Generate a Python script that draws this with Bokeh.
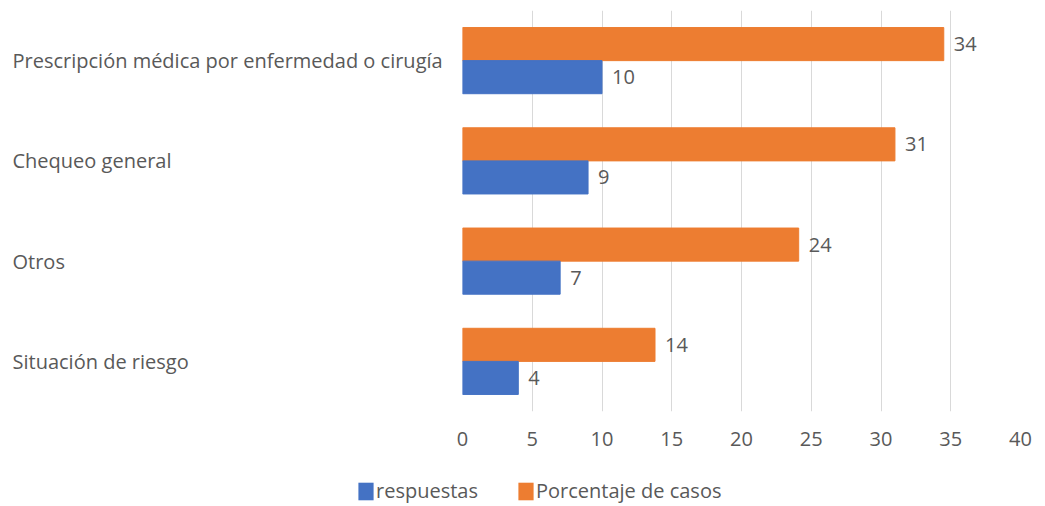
from bokeh.plotting import figure
from bokeh.models import ColumnDataSource, Legend, LegendItem, FactorRange, Range1d
from bokeh.layouts import column, row
from bokeh.transform import dodge
from bokeh.core.properties import value
from bokeh.embed import file_html
from bokeh.resources import INLINE

categories = [
    "Prescripción médica por enfermedad o cirugía",
    "Chequeo general",
    "Otros",
    "Situación de riesgo",
]
respuestas = [10, 9, 7, 4]
porcentaje = [34.5, 31.0, 24.1, 13.8]
x_ticks = [0, 5, 10, 15, 20, 25, 30, 35, 40]
series_names = ["respuestas", "Porcentaje de casos"]

FONT = "Open Sans"
FS = "20px"
TXT = "#595959"
BLUE = "#4472C4"
ORANGE = "#ED7D31"

src = ColumnDataSource(dict(
    cat=categories,
    resp=respuestas,
    pct=porcentaje,
    resp_lbl=[f"{v:.0f}" for v in respuestas],
    pct_lbl=[f"{v:.0f}" for v in porcentaje],
))

yr = FactorRange(factors=categories[::-1], range_padding=0)

common = dict(output_backend="svg", toolbar_location=None, outline_line_color=None)

# ---- category labels (left) ----
lab = figure(width=452, height=450, x_range=Range1d(0, 1), y_range=yr,
             min_border_left=0, min_border_right=0, min_border_top=10, min_border_bottom=39,
             x_axis_location=None, y_axis_location=None, **common)
lab.grid.visible = False
lab.text(x=0, y="cat", text="cat", source=src, x_offset=12,
         text_align="left", text_baseline="middle",
         text_font=value(FONT), text_font_size=FS, text_color=TXT)

# ---- main bars ----
p = figure(width=581, height=450, x_range=Range1d(0, 40), y_range=yr,
           min_border_left=10, min_border_right=13, min_border_top=10, min_border_bottom=39,
           **common)

r_pct = p.hbar(y=dodge("cat", 0.165, range=yr), left=0, right="pct", height=0.33,
               color=ORANGE, source=src)
r_resp = p.hbar(y=dodge("cat", -0.165, range=yr), left=0, right="resp", height=0.33,
                color=BLUE, source=src)

p.text(x="pct", y=dodge("cat", 0.165, range=yr), text="pct_lbl", source=src,
       x_offset=10, text_baseline="middle", text_align="left",
       text_font=value(FONT), text_font_size=FS, text_color=TXT)
p.text(x="resp", y=dodge("cat", -0.165, range=yr), text="resp_lbl", source=src,
       x_offset=10, text_baseline="middle", text_align="left",
       text_font=value(FONT), text_font_size=FS, text_color=TXT)

p.yaxis.visible = False
p.ygrid.visible = False
p.xgrid.grid_line_color = "#D9D9D9"
p.xaxis.ticker = x_ticks
p.xaxis.axis_line_color = None
p.xaxis.major_tick_line_color = None
p.xaxis.minor_tick_line_color = None
p.xaxis.major_label_text_font = FONT
p.xaxis.major_label_text_font_size = FS
p.xaxis.major_label_text_color = TXT
p.xaxis.major_label_standoff = 14

# ---- legend strip (bottom) ----
leg = figure(width=1033, height=54, x_range=Range1d(0, 1), y_range=Range1d(0, 1),
             min_border_left=0, min_border_right=0, min_border_top=0, min_border_bottom=0,
             x_axis_location=None, y_axis_location=None, **common)
leg.grid.visible = False
# zero-width proxies: they only supply the legend swatches
proxy_src = ColumnDataSource(dict(y=[0.5], left=[0], right=[0]))
l_resp = leg.hbar(y="y", left="left", right="right", height=0.5,
                  fill_color=BLUE, line_color=None, source=proxy_src)
l_pct = leg.hbar(y="y", left="left", right="right", height=0.5,
                 fill_color=ORANGE, line_color=None, source=proxy_src)
legend = Legend(
    items=[LegendItem(label=series_names[0], renderers=[l_resp]),
           LegendItem(label=series_names[1], renderers=[l_pct])],
    orientation="horizontal", location=(356, 0),
    border_line_color=None, background_fill_alpha=0,
    label_text_font=FONT, label_text_font_size=FS, label_text_color=TXT,
    glyph_width=19, glyph_height=22, spacing=38, label_standoff=1,
    padding=0, margin=0,
)
leg.add_layout(legend, "center")

layout = column(row(lab, p), leg)

open("out.html", "w").write(file_html(layout, INLINE))
